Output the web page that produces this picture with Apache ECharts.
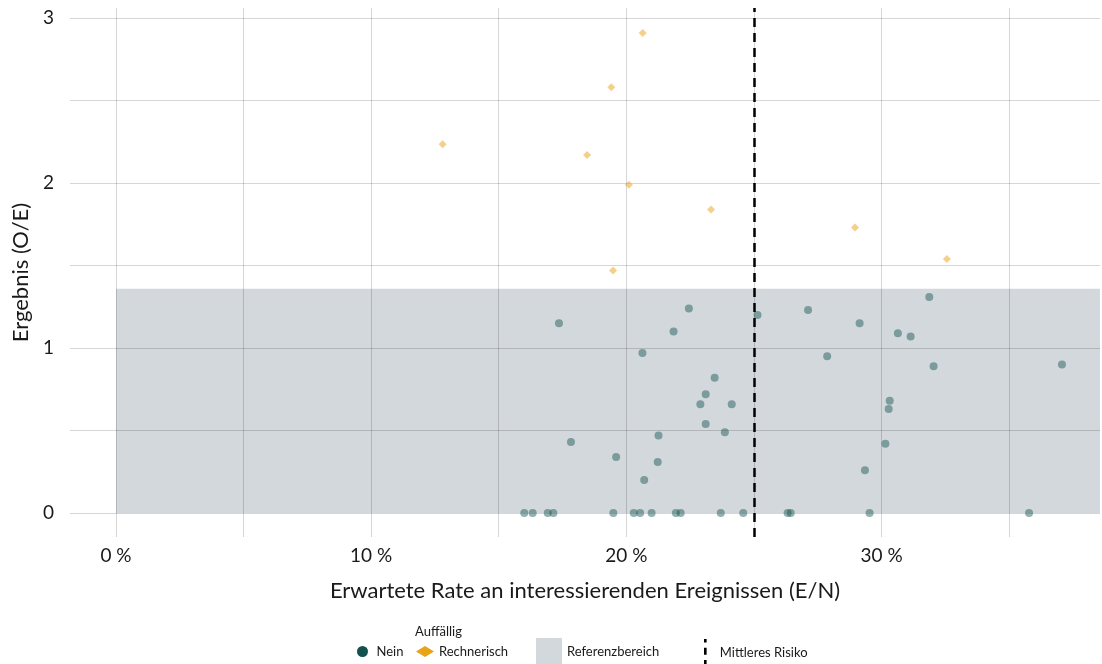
<!DOCTYPE html>
<html><head><meta charset="utf-8">
<script src="https://cdn.jsdelivr.net/npm/echarts@6/dist/echarts.min.js"></script>
<style>html,body{margin:0;padding:0;background:#fff}#c{width:1102px;height:664px}</style>
</head><body><div id="c"></div>
<script>
// ---- data ----
const xLabelTicks = [0, 10, 20, 30];      // labelled x ticks (%)
const yLabelTicks = [0, 1, 2, 3];         // labelled y ticks
const neinRate = [16.00, 16.33, 16.92, 17.14, 17.36, 17.83, 19.49, 19.60, 20.29, 20.54, 20.63, 20.70, 20.99,
  21.23, 21.26, 21.85, 21.94, 22.13, 22.45, 22.90, 23.11, 23.11, 23.46, 23.70, 23.86, 24.13, 24.58,
  25.14, 26.32, 26.44, 27.12, 27.87, 29.14, 29.35, 29.53, 30.15, 30.28, 30.32, 30.64, 31.14, 31.87,
  32.04, 35.78, 37.07];
const neinOE = [0, 0, 0, 0, 1.15, 0.43, 0, 0.34, 0, 0, 0.97, 0.20, 0,
  0.31, 0.47, 1.10, 0, 0, 1.24, 0.66, 0.72, 0.54, 0.82, 0, 0.49, 0.66, 0,
  1.20, 0, 0, 1.23, 0.95, 1.15, 0.26, 0, 0.42, 0.63, 0.68, 1.09, 1.07, 1.31,
  0.89, 0, 0.90];
const rechRate = [12.80, 18.46, 19.41, 19.48, 20.10, 20.64, 23.32, 28.96, 32.56];
const rechOE = [2.235, 2.17, 2.58, 1.47, 1.99, 2.91, 1.84, 1.73, 1.54];
const refRange = [0, 1.36];   // Referenzbereich (O/E)
const refStart = [0];         // band starts at 0 %
const meanRisk = [25];        // Mittleres Risiko (%)

const FONT = 'Lato';
const txt = '#1a1a1a';
const grid = 'rgba(0,0,0,0.16)';

const chart = echarts.init(document.getElementById('c'), null, {renderer: 'canvas'});
const option = {
  animation: false,
  backgroundColor: '#fff',
  grid: {left: 70, right: 2, top: 8, bottom: 127, containLabel: false},
  xAxis: {
    type: 'value', min: -1.8, max: 38.56, minInterval: 5, maxInterval: 5, splitNumber: 8, z: 1,
    axisLine: {show: false}, axisTick: {show: false},
    splitLine: {show: true, showMinLine: false, showMaxLine: false, lineStyle: {color: grid, width: 1}},
    axisLabel: {
      margin: 9, color: txt, fontFamily: FONT, fontSize: 19,
      showMinLabel: false, showMaxLabel: false,
      formatter: v => xLabelTicks.includes(Math.round(v * 1000) / 1000) ? v + ' %' : ''
    },
    name: 'Erwartete Rate an interessierenden Ereignissen (E/N)', nameLocation: 'middle', nameGap: 43,
    nameTextStyle: {color: txt, fontFamily: FONT, fontSize: 22}
  },
  yAxis: {
    type: 'value', min: -0.145, max: 3.061, minInterval: 0.5, maxInterval: 0.5, splitNumber: 6, z: 1,
    axisLine: {show: false}, axisTick: {show: false},
    splitLine: {show: true, showMinLine: false, showMaxLine: false, lineStyle: {color: grid, width: 1}},
    axisLabel: {
      margin: 16, color: txt, fontFamily: FONT, fontSize: 19,
      showMinLabel: false, showMaxLabel: false,
      formatter: v => yLabelTicks.includes(Math.round(v * 1000) / 1000) ? String(v) : ''
    },
    name: 'Ergebnis (O/E)', nameLocation: 'middle', nameGap: 38, nameRotate: 90,
    nameTextStyle: {color: txt, fontFamily: FONT, fontSize: 22}
  },
  legend: [
    {data: [{name: 'Nein', icon: 'circle', itemStyle: {color: '#12514d', opacity: 1}}],
     left: 357, top: 645, padding: 0, itemWidth: 18, itemHeight: 11, selectedMode: false,
     textStyle: {color: txt, fontFamily: FONT, fontSize: 13}},
    {data: [{name: 'Rechnerisch', icon: 'diamond', itemStyle: {color: '#e9a316', opacity: 1}}],
     left: 416, top: 645, padding: 0, itemWidth: 18, itemHeight: 11, selectedMode: false,
     textStyle: {color: txt, fontFamily: FONT, fontSize: 13}},
    {data: [{name: 'Referenzbereich', icon: 'rect', itemStyle: {color: '#d3d8dc', opacity: 1}}],
     left: 536, top: 638, padding: 0, itemWidth: 26, itemHeight: 28, selectedMode: false,
     textStyle: {color: txt, fontFamily: FONT, fontSize: 13}},
    {data: [{name: 'Mittleres Risiko', icon: 'path://M0,0h3v4h-3zM0,10h3v8h-3zM0,24h3v8h-3z', itemStyle: {color: '#000', opacity: 1}}],
     left: 704, top: 639, padding: 0, itemWidth: 3, itemHeight: 28, selectedMode: false,
     textStyle: {color: txt, fontFamily: FONT, fontSize: 13, padding: [0, 0, 0, 8]}}
  ],
  graphic: [
    {type: 'text', left: 415, top: 625, style: {text: 'Auffällig', fill: txt, font: '13px ' + FONT}}
  ],
  series: [
    {
      name: 'Referenzbereich', type: 'custom', z: 0, silent: true,
      data: [[refStart[0], refRange[0], refRange[1]]],
      encode: {x: 0, y: [1, 2]},
      renderItem: function (params, api) {
        const top = api.coord([api.value(0), api.value(2)]);
        const bot = api.coord([api.value(0), api.value(1)]);
        const cs = params.coordSys;
        return {
          type: 'rect',
          shape: {x: top[0], y: top[1], width: cs.x + cs.width - top[0], height: bot[1] - top[1]},
          style: {fill: '#d3d8dc'}
        };
      }
    },
    {
      name: 'Nein', type: 'scatter', z: 2, symbol: 'circle', symbolSize: 8,
      itemStyle: {color: '#12514d', opacity: 0.45},
      data: neinRate.map((x, i) => [x, neinOE[i]])
    },
    {
      name: 'Rechnerisch', type: 'scatter', z: 2, symbol: 'diamond', symbolSize: 8,
      itemStyle: {color: '#e9a316', opacity: 0.5},
      data: rechRate.map((x, i) => [x, rechOE[i]])
    },
    {
      name: 'Mittleres Risiko', type: 'scatter', z: 3, data: [], itemStyle: {color: '#000'},
      markLine: {
        silent: true, symbol: 'none', label: {show: false},
        lineStyle: {color: '#000', type: [9, 6], width: 2.5},
        data: meanRisk.map(v => ({xAxis: v}))
      }
    }
  ]
};
chart.setOption(option);
</script>
</body></html>
